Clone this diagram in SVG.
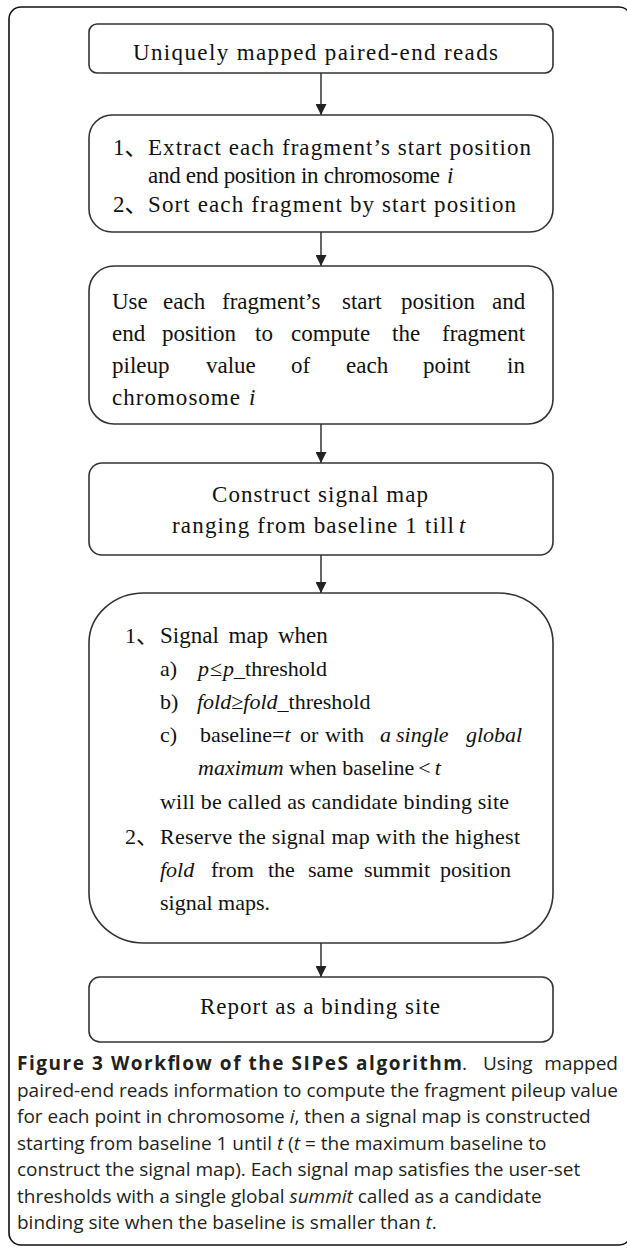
<svg xmlns="http://www.w3.org/2000/svg" width="627" height="1248" viewBox="0 0 627 1248">
<style>
.box{fill:#fff;stroke:#333;stroke-width:1.6}
.t{font-family:'Liberation Serif','Noto Sans CJK SC',serif;font-size:23px;fill:#111}
.s{font-size:22px}
.it{font-style:italic}
.cap{font-family:'Open Sans','Liberation Sans',sans-serif;font-size:19px;fill:#231f20}
.b{font-weight:bold}
.conn{stroke:#333;stroke-width:1.5;fill:none}
</style>
<defs>
<marker id="ah" markerUnits="userSpaceOnUse" markerWidth="11" markerHeight="11" viewBox="0 0 11 11" refX="11" refY="5.5" orient="auto">
<path d="M0,0 L11,5.5 L0,11 z" fill="#222"/>
</marker>
</defs>
<g id="frame">
<rect x="9" y="7" width="622" height="1238" rx="12" fill="none" stroke="#111" stroke-width="1.6"/>
</g>
<g id="connectors">
<path class="conn" d="M321,73 V115" marker-end="url(#ah)"/>
<path class="conn" d="M321,232 V266" marker-end="url(#ah)"/>
<path class="conn" d="M321,424 V463" marker-end="url(#ah)"/>
<path class="conn" d="M321,555 V593" marker-end="url(#ah)"/>
<path class="conn" d="M321,943 V977" marker-end="url(#ah)"/>
</g>
<g id="n1">
<rect class="box" x="89" y="24" width="464" height="49" rx="8"/>
<text class="t" x="133" y="60" textLength="365" lengthAdjust="spacing">Uniquely mapped paired-end reads</text>
</g>
<g id="n2">
<rect class="box" x="89" y="115" width="464" height="117" rx="23"/>
<text class="t" x="113" y="154.5">1、</text>
<text class="t" x="148" y="154.5" textLength="383" lengthAdjust="spacing">Extract each fragment’s start position</text>
<text class="t" x="148" y="183" textLength="292" lengthAdjust="spacing">and end position in chromosome</text>
<text class="t it" x="447" y="183">i</text>
<text class="t" x="113" y="211.5">2、</text>
<text class="t" x="148" y="211.5" textLength="368" lengthAdjust="spacing">Sort each fragment by start position</text>
</g>
<g id="n3">
<rect class="box" x="89" y="266" width="464" height="158" rx="25"/>
<text class="t" y="309"><tspan x="112">Use</tspan><tspan x="163">each</tspan><tspan x="222">fragment’s</tspan><tspan x="342">start</tspan><tspan x="401">position</tspan><tspan x="492">and</tspan></text>
<text class="t" y="341"><tspan x="112">end</tspan><tspan x="162">position</tspan><tspan x="255">to</tspan><tspan x="291">compute</tspan><tspan x="392">the</tspan><tspan x="442">fragment</tspan></text>
<text class="t" y="373"><tspan x="112">pileup</tspan><tspan x="206">value</tspan><tspan x="291">of</tspan><tspan x="346">each</tspan><tspan x="423">point</tspan><tspan x="507">in</tspan></text>
<text class="t" x="112" y="405" textLength="128" lengthAdjust="spacing">chromosome</text>
<text class="t it" x="249" y="405">i</text>
</g>
<g id="n4">
<rect class="box" x="89" y="463" width="464" height="92" rx="13"/>
<text class="t" x="212" y="502" textLength="216" lengthAdjust="spacing">Construct signal map</text>
<text class="t" x="172" y="533" textLength="282" lengthAdjust="spacing">ranging from baseline 1 till</text>
<text class="t it" x="459" y="533">t</text>
</g>
<g id="n5">
<rect class="box" x="89" y="593" width="464" height="350" rx="55" ry="50"/>
<text class="t s" x="125" y="643">1、</text>
<text class="t" x="160" y="643" word-spacing="4">Signal map when</text>
<text class="t s" y="676"><tspan x="160">a)</tspan><tspan x="198" class="it">p</tspan><tspan dx="1">≤</tspan><tspan dx="1" class="it">p</tspan><tspan>_threshold</tspan></text>
<text class="t s" y="709"><tspan x="160">b)</tspan><tspan x="197" class="it">fold</tspan><tspan>≥</tspan><tspan class="it">fold</tspan><tspan>_threshold</tspan></text>
<text class="t s" y="742"><tspan x="160">c)</tspan><tspan x="200">baseline=</tspan><tspan class="it">t</tspan><tspan x="300">or</tspan><tspan x="325">with</tspan><tspan x="380" class="it">a</tspan><tspan x="396" class="it">single</tspan><tspan x="466" class="it">global</tspan></text>
<text class="t s" y="775"><tspan x="198" class="it">maximum</tspan> when baseline<tspan dx="4">&lt;</tspan><tspan dx="4" class="it">t</tspan></text>
<text class="t s" x="160" y="809" textLength="349" lengthAdjust="spacing">will be called as candidate binding site</text>
<text class="t s" x="125" y="844">2、</text>
<text class="t s" x="160" y="844" textLength="360" lengthAdjust="spacing">Reserve the signal map with the highest</text>
<text class="t s" y="877"><tspan x="160" class="it">fold</tspan><tspan x="211">from</tspan><tspan x="268">the</tspan><tspan x="308">same</tspan><tspan x="364">summit</tspan><tspan x="440">position</tspan></text>
<text class="t s" x="160" y="910">signal maps.</text>
</g>
<g id="n6">
<rect class="box" x="89" y="977" width="464" height="65" rx="11"/>
<text class="t" x="200" y="1014" textLength="240" lengthAdjust="spacing">Report as a binding site</text>
</g>
<g id="caption">
<text class="cap b" x="17" y="1070" textLength="445" lengthAdjust="spacing">Figure 3 Workflow of the SIPeS algorithm</text>
<text class="cap" x="462" y="1070">.</text>
<text class="cap" x="483" y="1070">Using</text>
<text class="cap" x="618" y="1070" text-anchor="end">mapped</text>
<text class="cap" x="17" y="1096.5" textLength="601" lengthAdjust="spacing">paired-end reads information to compute the fragment pileup value</text>
<text class="cap" x="17" y="1123">for each point in chromosome <tspan class="it">i</tspan>, then a signal map is constructed</text>
<text class="cap" x="17" y="1149.5">starting from baseline 1 until <tspan class="it">t</tspan> (<tspan class="it">t</tspan> = the maximum baseline to</text>
<text class="cap" x="17" y="1176">construct the signal map). Each signal map satisfies the user-set</text>
<text class="cap" x="17" y="1202.5">thresholds with a single global <tspan class="it">summit</tspan> called as a candidate</text>
<text class="cap" x="17" y="1229">binding site when the baseline is smaller than <tspan class="it">t</tspan>.</text>
</g>
</svg>
